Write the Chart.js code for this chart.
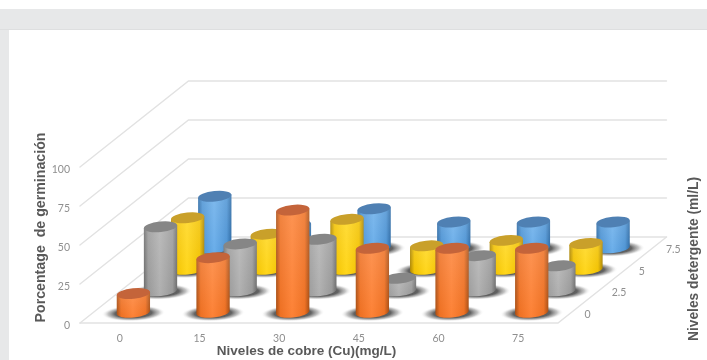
<!DOCTYPE html>
<html lang="es">
<head>
<meta charset="utf-8">
<title>Porcentage de germinación</title>
<script src="https://cdn.jsdelivr.net/npm/chart.js@4/dist/chart.umd.min.js"></script>
<style>
  html, body { margin: 0; padding: 0; background: #fff; overflow: hidden; }
  #stage { position: relative; width: 707px; height: 360px; }
  #band { position: absolute; left: 0; top: 9px; width: 707px; height: 21px; background: #e7e8e9; border-bottom: 1px solid #dedfe0; box-sizing: border-box; }
  #edge { position: absolute; left: 0; top: 30px; width: 9px; height: 330px; background: #e7e8e9; }
  canvas { position: absolute; left: 0; top: 0; }
</style>
</head>
<body>
<div id="stage">
  <div id="band"></div>
  <div id="edge"></div>
  <canvas id="chart" width="707" height="360"></canvas>
</div>
<script>
// Germination (%) per copper level, one array per detergent level.
const copperLevels = ['0', '15', '30', '45', '60', '75'];
const detergentLevels = ['0', '2.5', '5', '7.5'];
const germinationAt0 = [12, 35, 65.5, 41, 41, 41];
const germinationAt25 = [41, 30, 33, 8, 22.5, 16];
const germinationAt5 = [33, 22.5, 32, 15, 18.5, 16.5];
const germinationAt75 = [33, 14.5, 25, 16.5, 16.5, 16.5];
const percentTicks = [0, 25, 50, 75, 100];

const yTitle = 'Porcentage  de germinación';
const xTitle = 'Niveles de cobre (Cu)(mg/L)';
const depthTitle = 'Niveles detergente (ml/L)';

// Oblique projection of the floor: full depth of the chart in canvas pixels.
const DEPTH_DX = 108.5;
const DEPTH_DY = -86;
const TILT = -6 * Math.PI / 180;
const RY = 5.2;

const palettes = [
  { edge: '#a84d12', mid: '#ee7022', light: '#fd8236', top: '#c4643a' },
  { edge: '#6b6b6b', mid: '#999999', light: '#b0b0b0', top: '#868686' },
  { edge: '#ab8400', mid: '#f2c200', light: '#ffd61a', top: '#c9a02a' },
  { edge: '#2c6aa5', mid: '#4e94d4', light: '#6aaeea', top: '#4f80b3' }
];

function depthOffset(fraction) {
  return { dx: DEPTH_DX * fraction, dy: DEPTH_DY * fraction };
}

function drawShadow(ctx, cx, cy, halfWidth) {
  ctx.save();
  ctx.translate(cx, cy);
  ctx.rotate(TILT / 3);
  ctx.scale(1, 8 / halfWidth);
  const g = ctx.createRadialGradient(0, 0, 0, 0, 0, halfWidth);
  g.addColorStop(0, 'rgba(40,40,40,0.9)');
  g.addColorStop(0.58, 'rgba(55,55,55,0.78)');
  g.addColorStop(0.8, 'rgba(110,110,110,0.4)');
  g.addColorStop(1, 'rgba(255,255,255,0)');
  ctx.fillStyle = g;
  ctx.beginPath();
  ctx.arc(0, 0, halfWidth, 0, Math.PI * 2);
  ctx.fill();
  ctx.restore();
}

function drawCylinder(ctx, cx, top, base, rx, colors) {
  const sin = Math.sin(TILT), cos = Math.cos(TILT);
  const hw = Math.sqrt(rx * rx * cos * cos + RY * RY * sin * sin);
  const dl = (rx * rx - RY * RY) * Math.abs(sin) * cos / hw;

  const side = ctx.createLinearGradient(cx - hw, 0, cx + hw, 0);
  side.addColorStop(0, colors.edge);
  side.addColorStop(0.13, colors.mid);
  side.addColorStop(0.48, colors.light);
  side.addColorStop(0.86, colors.mid);
  side.addColorStop(1, colors.edge);

  const body = () => {
    ctx.beginPath();
    ctx.moveTo(cx - hw, top + dl);
    ctx.lineTo(cx - hw, base + dl);
    ctx.ellipse(cx, base, rx, RY, TILT, Math.PI, 0, true);
    ctx.lineTo(cx + hw, top - dl);
    ctx.closePath();
  };
  ctx.fillStyle = side;
  body();
  ctx.fill();

  // The upper part of each body catches more light.
  const sheen = ctx.createLinearGradient(0, top, 0, base + RY);
  sheen.addColorStop(0, 'rgba(255,255,255,0.14)');
  sheen.addColorStop(1, 'rgba(255,255,255,0)');
  ctx.fillStyle = sheen;
  body();
  ctx.fill();

  ctx.fillStyle = colors.top;
  ctx.beginPath();
  ctx.ellipse(cx, top, rx, RY, TILT, 0, Math.PI * 2);
  ctx.fill();
}

// Floor, walls and the remaining texts of the 3-D frame.
const framePlugin = {
  id: 'frame3d',
  beforeDatasetsDraw(chart) {
    const { ctx, chartArea: area, scales: { y } } = chart;
    const back = depthOffset(1);
    ctx.save();
    ctx.strokeStyle = '#e2e2e2';
    ctx.lineWidth = 1.4;
    ctx.lineCap = 'round';
    percentTicks.forEach(v => {
      const py = y.getPixelForValue(v);
      ctx.beginPath();
      ctx.moveTo(area.left, py);
      ctx.lineTo(area.left + back.dx, py + back.dy);
      ctx.lineTo(area.right + back.dx, py + back.dy);
      ctx.stroke();
    });
    const py0 = y.getPixelForValue(0);
    ctx.beginPath();
    ctx.moveTo(area.left, py0);
    ctx.lineTo(area.right, py0);
    ctx.lineTo(area.right + back.dx, py0 + back.dy);
    ctx.stroke();
    ctx.restore();
  },
  beforeDatasetDraw(chart, args) {
    const { ctx } = chart;
    const meta = args.meta;
    const k = args.index;
    const off = depthOffset((k + 0.5) / detergentLevels.length);
    meta.data.forEach(bar => {
      drawShadow(ctx, bar.x + off.dx, bar.base + off.dy + 1, bar.width * 0.95);
    });
    meta.data.forEach(bar => {
      drawCylinder(ctx, bar.x + off.dx, bar.y + off.dy, bar.base + off.dy, bar.width / 2, palettes[k]);
    });
    return false;
  },
  afterDraw(chart) {
    const { ctx, chartArea: area, scales: { y } } = chart;
    ctx.save();
    ctx.textBaseline = 'middle';

    // Depth axis tick labels along the right floor edge.
    ctx.font = '10.5px Lato, "Open Sans", sans-serif';
    ctx.fillStyle = '#8f8f8f';
    ctx.textAlign = 'left';
    detergentLevels.forEach((label, k) => {
      const off = depthOffset((k + 0.5) / detergentLevels.length);
      ctx.fillText(label, area.right + off.dx + 13, y.getPixelForValue(0) + off.dy + 2);
    });

    // Axis titles.
    ctx.textAlign = 'center';
    ctx.fillStyle = '#595959';
    ctx.font = 'bold 13.5px "Liberation Sans", Arial, sans-serif';
    ctx.fillText(xTitle, 306.5, 351);
    ctx.save();
    ctx.translate(41.5, 227.5);
    ctx.rotate(-Math.PI / 2);
    ctx.font = 'bold 14.2px "Liberation Sans", Arial, sans-serif';
    ctx.fillText(yTitle, 0, 0);
    ctx.restore();
    ctx.save();
    ctx.translate(694, 259);
    ctx.rotate(-Math.PI / 2);
    ctx.font = 'bold 13.8px "Liberation Sans", Arial, sans-serif';
    ctx.fillText(depthTitle, 0, 0);
    ctx.restore();
    ctx.restore();
  }
};

const seriesValues = [germinationAt0, germinationAt25, germinationAt5, germinationAt75];

new Chart(document.getElementById('chart'), {
  type: 'bar',
  data: {
    labels: copperLevels,
    datasets: seriesValues.map((values, k) => ({
      label: detergentLevels[k],
      data: values,
      backgroundColor: palettes[k].mid,
      grouped: false,
      barPercentage: 0.42,
      categoryPercentage: 1
    }))
  },
  plugins: [framePlugin],
  options: {
    responsive: false,
    animation: false,
    events: [],
    layout: { padding: { top: 167, right: 149, bottom: 0, left: 0 } },
    plugins: { legend: { display: false }, tooltip: { enabled: false }, title: { display: false } },
    scales: {
      x: {
        grid: { display: false, drawTicks: false },
        border: { display: false },
        ticks: {
          color: '#8f8f8f', padding: 9, maxRotation: 0,
          font: { family: 'Lato, "Open Sans", sans-serif', size: 10.5 }
        },
        afterFit(scale) { scale.height = 37; }
      },
      y: {
        min: 0, max: 100,
        grid: { display: false, drawTicks: false },
        border: { display: false },
        afterBuildTicks(scale) { scale.ticks = percentTicks.map(value => ({ value })); },
        ticks: {
          color: '#8f8f8f', padding: 10, labelOffset: 2.5,
          font: { family: 'Lato, "Open Sans", sans-serif', size: 10.5 }
        },
        afterFit(scale) { scale.width = 80; }
      }
    }
  }
});
</script>
</body>
</html>
